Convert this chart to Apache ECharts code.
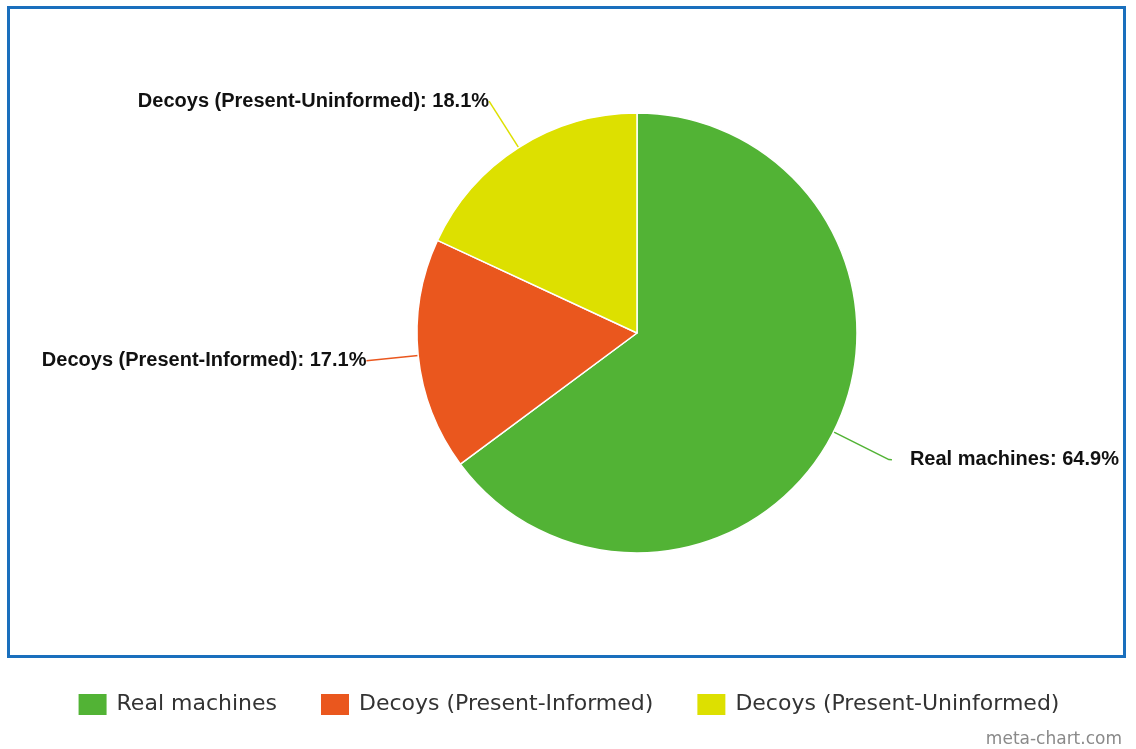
<!DOCTYPE html>
<html>
<head>
<meta charset="utf-8">
<style>
  html, body { margin: 0; padding: 0; background: #ffffff; }
  #chart { width: 1136px; height: 749px; }
</style>
<script src="https://cdn.jsdelivr.net/npm/echarts@6/dist/echarts.min.js"></script>
</head>
<body>
<div id="chart"></div>
<script>
// Share of machines by type (percent)
const categories = ['Real machines', 'Decoys (Present-Informed)', 'Decoys (Present-Uninformed)'];
const shares = [64.9, 17.1, 18.1];
const colors = ['#52b335', '#ea571e', '#dde000'];

// Leader line lengths and gap to the label text, per slice
const leaderStyle = [
  { length: 62, length2: 3, gap: 18 },
  { length: 52, length2: 0, gap: 0 },
  { length: 55, length2: 0, gap: 0 }
];

const chart = echarts.init(document.getElementById('chart'), null, { renderer: 'canvas' });

const pieData = categories.map((name, i) => ({
  name: name,
  value: shares[i],
  itemStyle: { color: colors[i] },
  label: { distanceToLabelLine: leaderStyle[i].gap },
  labelLine: {
    length: leaderStyle[i].length,
    length2: leaderStyle[i].length2,
    lineStyle: { color: colors[i] }
  }
}));

chart.setOption({
  backgroundColor: '#ffffff',
  animation: false,
  graphic: [
    {
      type: 'rect',
      z: 0,
      shape: { x: 8.5, y: 7.5, width: 1116, height: 649 },
      style: { fill: 'none', stroke: '#1a6fbd', lineWidth: 3 }
    },
    {
      type: 'text',
      right: 14,
      top: 731,
      style: {
        text: 'meta-chart.com',
        fill: '#8a8a8a',
        font: '17px "DejaVu Sans", sans-serif'
      }
    }
  ],
  legend: {
    data: categories,
    left: 'center',
    top: 692,
    padding: 0,
    itemWidth: 30,
    itemHeight: 23,
    itemGap: 42,
    icon: 'rect',
    textStyle: {
      fontFamily: '"DejaVu Sans", sans-serif',
      fontSize: 22,
      color: '#333333',
      padding: [0, 0, 0, 4]
    }
  },
  series: [
    {
      type: 'pie',
      z: 3,
      center: [637, 333],
      radius: 220,
      startAngle: 90,
      clockwise: true,
      avoidLabelOverlap: false,
      itemStyle: { borderColor: '#ffffff', borderWidth: 1.5 },
      label: {
        show: true,
        formatter: '{b}: {c}%',
        fontFamily: '"Liberation Sans", Arial, sans-serif',
        fontWeight: 'bold',
        fontSize: 20,
        color: '#111111',
        padding: [14, 0, 0, 0]
      },
      labelLine: {
        show: true,
        smooth: 0.2,
        lineStyle: { width: 1.5 }
      },
      data: pieData
    }
  ]
});
</script>
</body>
</html>
